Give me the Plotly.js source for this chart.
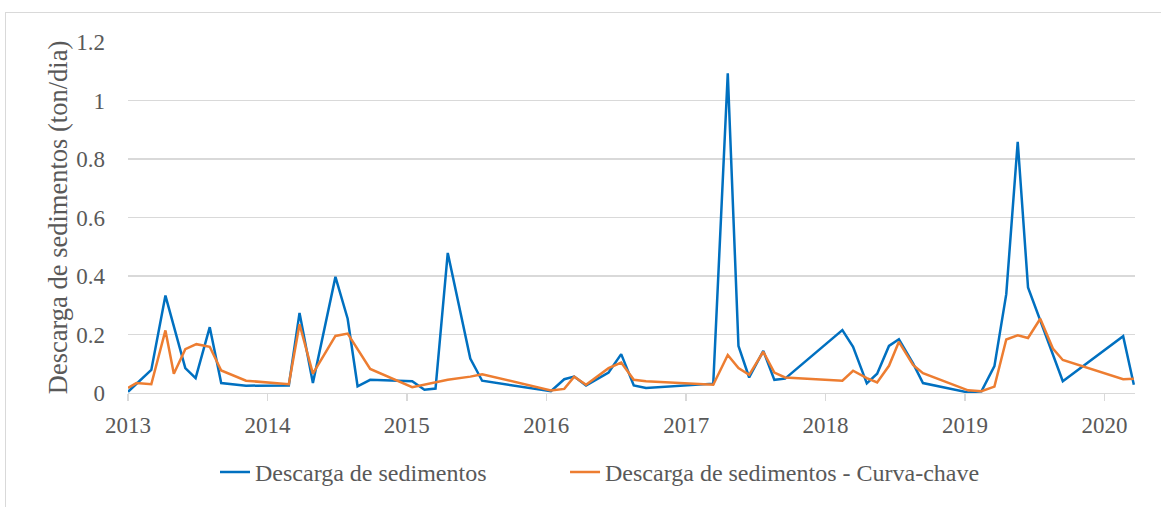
<!DOCTYPE html>
<html>
<head>
<meta charset="utf-8">
<script src="https://cdn.plot.ly/plotly-3.0.1.min.js"></script>
<style>
  html, body { margin: 0; padding: 0; background: #ffffff; overflow: hidden; }
  #wrap { position: relative; width: 1161px; height: 507px; }
  #chart { width: 1161px; height: 507px; }
  #frame { position: absolute; left: 5px; top: 12px; width: 1200px; height: 600px;
           border: 1px solid #d9d9d9; pointer-events: none; box-sizing: border-box; }
</style>
</head>
<body>
<div id="wrap">
  <div id="chart"></div>
  <div id="frame"></div>
</div>
<script>
// Descarga de sedimentos (medida)
const datesMedida = [
  '2013-01-01','2013-03-03','2013-04-09','2013-05-31','2013-06-27','2013-08-03','2013-09-02','2013-11-06',
  '2014-02-26','2014-03-26','2014-04-30','2014-06-28','2014-07-30','2014-08-25','2014-09-27','2014-11-16',
  '2015-01-15','2015-02-16','2015-03-17','2015-04-18','2015-06-16','2015-07-17',
  '2016-01-13','2016-02-17','2016-03-14','2016-04-14','2016-06-12','2016-07-15','2016-08-17','2016-09-18',
  '2017-03-13','2017-04-20','2017-05-18','2017-06-15','2017-07-22','2017-08-20','2017-09-17',
  '2018-02-14','2018-03-14','2018-04-19','2018-05-16','2018-06-16','2018-07-12','2018-08-18','2018-09-13',
  '2019-01-09','2019-02-13','2019-03-19','2019-04-19','2019-05-19','2019-06-15','2019-09-14',
  '2020-02-19','2020-03-18'
];
const valoresMedida = [
  0.004, 0.079, 0.333, 0.085, 0.051, 0.225, 0.034, 0.025,
  0.026, 0.274, 0.034, 0.397, 0.254, 0.023, 0.045, 0.042,
  0.040, 0.011, 0.015, 0.479, 0.118, 0.042,
  0.006, 0.047, 0.056, 0.026, 0.070, 0.133, 0.026, 0.017,
  0.032, 1.093, 0.161, 0.053, 0.144, 0.045, 0.049,
  0.215, 0.158, 0.033, 0.066, 0.161, 0.184, 0.101, 0.034,
  0.002, 0.006, 0.092, 0.338, 0.859, 0.361, 0.040,
  0.194, 0.028
];

// Descarga de sedimentos - Curva-chave
const datesCurva = [
  '2013-01-01','2013-01-23','2013-03-03','2013-04-09','2013-05-01','2013-05-31','2013-06-29','2013-08-03','2013-09-02','2013-11-06',
  '2014-02-26','2014-03-26','2014-04-30','2014-06-28','2014-07-30','2014-09-27',
  '2015-01-15','2015-04-18','2015-06-16','2015-07-17',
  '2016-01-13','2016-02-17','2016-03-14','2016-04-14','2016-06-12','2016-07-15','2016-08-17','2016-09-18',
  '2017-03-13','2017-04-20','2017-05-18','2017-06-15','2017-07-22','2017-08-20','2017-09-17',
  '2018-02-14','2018-03-14','2018-04-19','2018-05-16','2018-06-16','2018-07-12','2018-08-18','2018-09-13',
  '2019-01-09','2019-02-13','2019-03-19','2019-04-19','2019-05-19','2019-06-15','2019-07-17','2019-08-19','2019-09-14',
  '2020-02-19','2020-03-18'
];
const valoresCurva = [
  0.017, 0.034, 0.030, 0.214, 0.066, 0.150, 0.167, 0.158, 0.077, 0.042,
  0.030, 0.235, 0.066, 0.195, 0.203, 0.082,
  0.020, 0.045, 0.056, 0.064,
  0.009, 0.014, 0.056, 0.028, 0.085, 0.104, 0.045, 0.040,
  0.028, 0.130, 0.085, 0.062, 0.141, 0.070, 0.053,
  0.042, 0.076, 0.051, 0.036, 0.093, 0.175, 0.096, 0.068,
  0.009, 0.006, 0.022, 0.183, 0.197, 0.188, 0.254, 0.152, 0.113,
  0.047, 0.049
];

const yTicks = [0, 0.2, 0.4, 0.6, 0.8, 1, 1.2];
const yTickText = ['0', '0.2', '0.4', '0.6', '0.8', '1', '1.2'];
const xTicks = ['2013-01-01','2014-01-01','2015-01-01','2016-01-01','2017-01-01','2018-01-01','2019-01-01','2020-01-01'];
const xTickText = ['2013','2014','2015','2016','2017','2018','2019','2020'];

const FONT = '"Liberation Serif", serif';
const TXT = '#595959';

const traces = [
  { x: datesMedida, y: valoresMedida, type: 'scatter', mode: 'lines', legend: 'legend',
    name: 'Descarga de sedimentos', line: { color: '#0070C0', width: 2.5 } },
  { x: datesCurva, y: valoresCurva, type: 'scatter', mode: 'lines', legend: 'legend2',
    name: 'Descarga de sedimentos - Curva-chave', line: { color: '#ED7D31', width: 2.5 } }
];

const legendFont = { family: FONT, size: 24, color: TXT };

const layout = {
  width: 1161, height: 507,
  margin: { l: 128, r: 26, t: 42, b: 110, pad: 0 },
  paper_bgcolor: 'rgba(0,0,0,0)', plot_bgcolor: '#ffffff',
  font: { family: FONT, color: TXT, size: 23 },
  showlegend: true,
  legend: { orientation: 'h', x: 0.0864, xanchor: 'left', y: -0.226, yanchor: 'middle',
            font: legendFont, itemclick: false },
  legend2: { orientation: 'h', x: 0.434, xanchor: 'left', y: -0.226, yanchor: 'middle',
            font: legendFont, itemclick: false },
  xaxis: {
    type: 'date', range: ['2013-01-01', '2020-03-21'],
    tickmode: 'array', tickvals: xTicks, ticktext: xTickText,
    showgrid: false, zeroline: false,
    showline: true, linecolor: '#d9d9d9', linewidth: 1.3,
    ticks: 'outside', ticklen: 7, tickcolor: '#d9d9d9', tickwidth: 1.3,
    ticklabelstandoff: 4,
    tickfont: { family: FONT, size: 23, color: TXT }
  },
  yaxis: {
    range: [0, 1.2], tickmode: 'array', tickvals: yTicks, ticktext: yTickText,
    showgrid: true, gridcolor: '#d9d9d9', gridwidth: 1.3,
    zeroline: false, showline: false, ticks: '',
    ticklabelstandoff: 22,
    tickfont: { family: FONT, size: 23, color: TXT },
    title: { text: 'Descarga de sedimentos (ton/dia)', font: { family: FONT, size: 26.5, color: TXT }, standoff: 0 }
  }
};

Plotly.newPlot('chart', traces, layout, { displayModeBar: false, staticPlot: true });
</script>
</body>
</html>
